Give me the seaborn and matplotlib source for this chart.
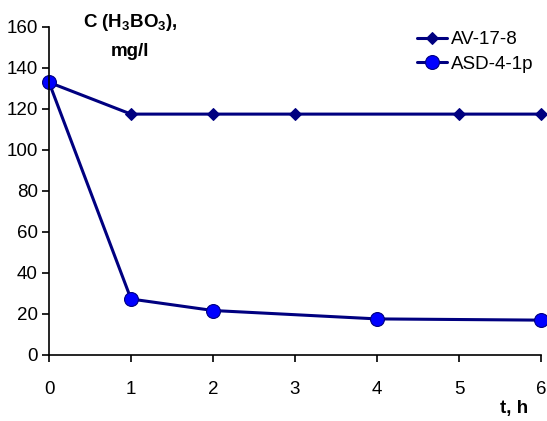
import matplotlib
matplotlib.use("Agg")
import matplotlib.pyplot as plt
import seaborn as sns
import pandas as pd

t_av = [0, 1, 2, 3, 5, 6]
c_av = [133, 117.5, 117.5, 117.5, 117.5, 117.5]
t_asd = [0, 1, 2, 4, 6]
c_asd = [133, 27.3, 21.7, 17.6, 17.0]
xticks = [0, 1, 2, 3, 4, 5, 6]
yticks = [0, 20, 40, 60, 80, 100, 120, 140, 160]

sns.set_theme(style="white")
plt.rcParams['font.family'] = ['Liberation Sans', 'DejaVu Sans']
plt.rcParams['text.color'] = 'black'
plt.rcParams['mathtext.fontset'] = 'custom'
plt.rcParams['mathtext.rm'] = 'Liberation Sans:bold'
plt.rcParams['mathtext.it'] = 'Liberation Sans:bold'
plt.rcParams['mathtext.bf'] = 'Liberation Sans:bold'

fig = plt.figure(figsize=(5.47, 4.21), dpi=100)
ax = fig.add_axes([0.0896, 0.1568, 0.8994, 0.7791])

df_av = pd.DataFrame({"t": t_av, "c": c_av})
df_asd = pd.DataFrame({"t": t_asd, "c": c_asd})

sns.lineplot(data=df_av, x="t", y="c", ax=ax, color="#000080", lw=2.2,
             marker="D", markersize=6, markerfacecolor="#000080",
             markeredgecolor="#000080", label="AV-17-8", clip_on=False)
sns.lineplot(data=df_asd, x="t", y="c", ax=ax, color="#000080", lw=2.2,
             marker="o", markersize=10, markerfacecolor="#0000FF",
             markeredgecolor="#000080", markeredgewidth=0.8,
             label="ASD-4-1p", clip_on=False)

ax.set_xlim(0, 6)
ax.set_ylim(0, 160)
ax.set_xticks(xticks)
ax.set_yticks(yticks)
ax.set_xlabel("")
ax.set_ylabel("")
for s in ["top", "right"]:
    ax.spines[s].set_visible(False)
for s in ["left", "bottom"]:
    ax.spines[s].set_color("black")
    ax.spines[s].set_linewidth(1.2)
ax.tick_params(axis="both", which="both", direction="out", length=5, width=1.2,
               color="black", labelsize=13.5, labelcolor="black", left=True, bottom=True)
ax.tick_params(axis="x", pad=14)
ax.tick_params(axis="y", pad=3)

fig.text(130 / 547, 1 - 36 / 421, "C (H$_3$BO$_3$),\nmg/l", ha="center", va="center",
         fontsize=13.5, fontweight="bold", linespacing=1.75, color="black")
fig.text(528 / 547, 1 - 408 / 421, "t, h", ha="right", va="center",
         fontsize=13.5, fontweight="bold", color="black")

leg = ax.legend(loc="upper right", bbox_to_anchor=(1.0, 1.01), frameon=False,
                fontsize=13.5, handlelength=1.6, handletextpad=0.2, labelspacing=0.4,
                borderaxespad=0.0)
for txt in leg.get_texts():
    txt.set_color("black")

fig.savefig("out.png", dpi=100)
